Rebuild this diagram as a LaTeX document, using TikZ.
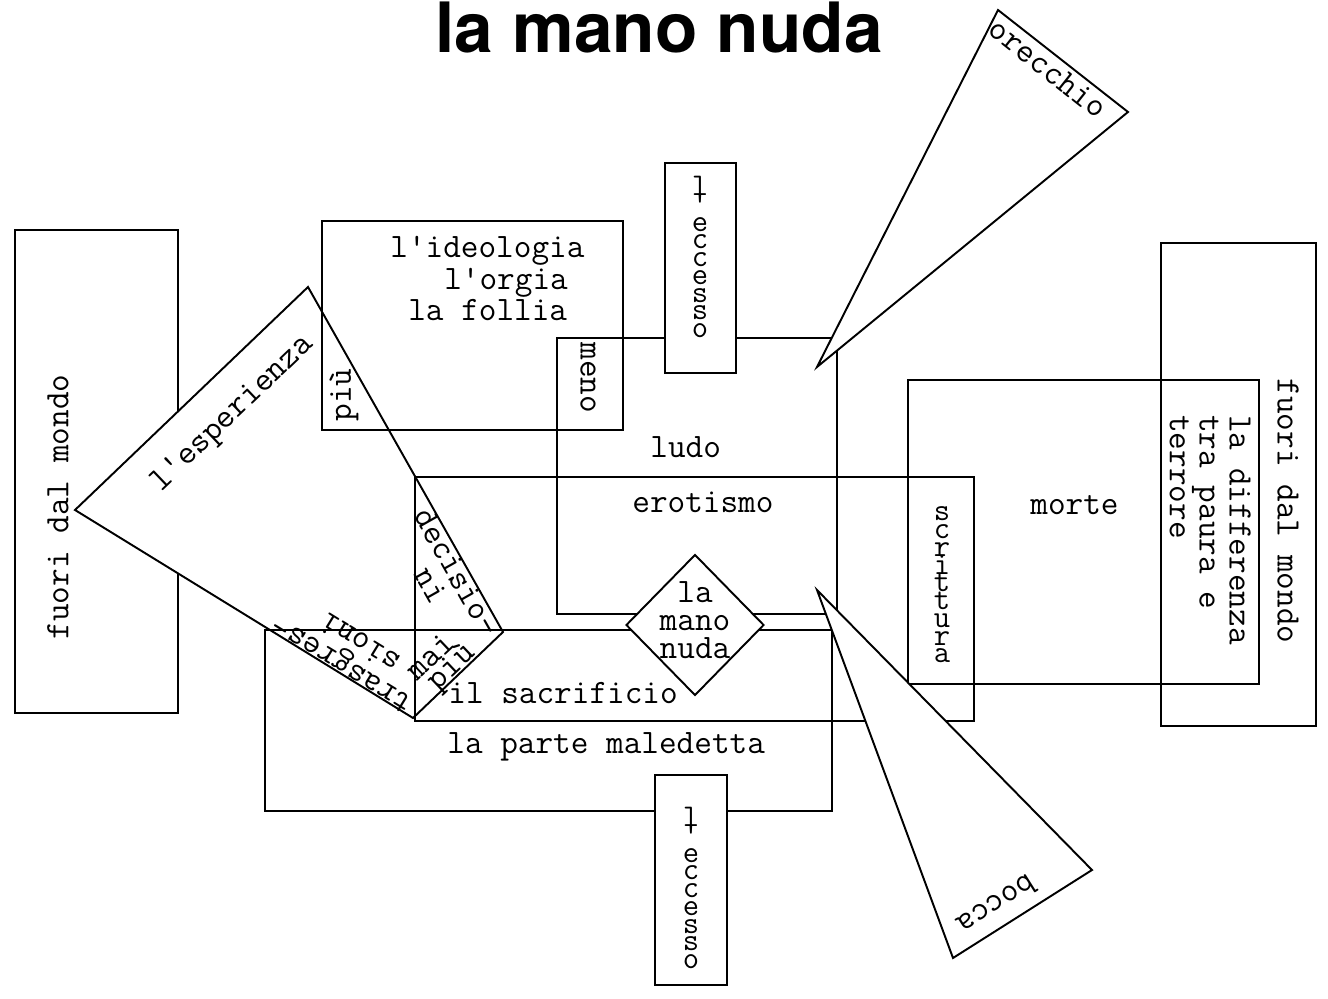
\documentclass[tikz,border=0pt]{standalone}
\usepackage{fontspec}
\usepackage{tikz}
\usetikzlibrary{shapes.geometric}
\newfontfamily\titlefont{TeX Gyre Heros}
\tikzstyle{box}=[draw=black,line width=1.1pt]
\tikzstyle{card}=[draw=black,fill=white,line width=1.1pt]
\tikzstyle{typed}=[inner sep=0pt,
                   font={\ttfamily\fontsize{19.5}{18}\selectfont}]
\tikzstyle{stacked}=[inner sep=0pt,align=center,
                     font={\ttfamily\fontsize{18}{10.1}\selectfont\lineskiplimit=-50pt}]

\begin{document}
\begin{tikzpicture}[x=0.02cm,y=-0.02cm]
    \useasboundingbox (0,0) rectangle (1328,999);
    \node (titolo) at (659,53) [anchor=base,inner sep=0pt,
        font={\titlefont\bfseries\fontsize{39.5}{40}\selectfont}]{la mano nuda};
    \draw[box] (15,230) rectangle (178,713);
    \draw[card] (75,510) -- (308,287) -- (503,632) -- (413,718) -- cycle;
    \draw[box] (322,221) rectangle (623,430);
    \draw[box] (557,338) rectangle (837,614);
    \draw[box] (415,477) rectangle (974,721);
    \draw[box] (265,630) rectangle (832,811);
    \draw[box] (908,380) rectangle (1259,684);
    \draw[box] (1161,243) rectangle (1316,726);
    \draw[card] (665,163) rectangle (736,373);
    \draw[card] (655,775) rectangle (727,985);
    \node (mano) at (695,625) [card,diamond,inner sep=0pt,
        minimum width=2.76cm,minimum height=2.82cm]{};
    \draw[card] (817,367) -- (998,10) -- (1128,112) -- cycle;
    \draw[card] (817,590) -- (1092,870) -- (953,958) -- cycle;
    \node (fuori1) at (58,507) [typed,rotate=90]{fuori dal mondo};
    \node (fuori2) at (1288,511) [typed,rotate=-90]{fuori dal mondo};
    \node (differenza) at (1251,415) [typed,rotate=-90,anchor=north west,align=left,
        font={\ttfamily\fontsize{19.5}{17}\selectfont}]{la differenza\\tra paura e\\terrore};
    \node (ideologia) at (390,236) [typed,anchor=north west,align=left]
        {l'ideologia\\\hspace*{1.575em}l'orgia\\\hspace*{0.525em}la follia};
    \node (piu1) at (344,395) [typed,rotate=90]{più};
    \node (meno) at (588,378) [typed,rotate=-90]{meno};
    \node (eccesso1) at (700,257) [stacked]{l\\'\\e\\c\\c\\e\\s\\s\\o};
    \node (eccesso2) at (691,888) [stacked]{l\\'\\e\\c\\c\\e\\s\\s\\o};
    \node (scrittura) at (942,585) [stacked]{s\\c\\r\\i\\t\\t\\u\\r\\a};
    \node (ludo) at (650,458) [typed,anchor=base west]{ludo};
    \node (erotismo) at (632,513) [typed,anchor=base west]{erotismo};
    \node (sacrificio) at (448,703) [typed,anchor=base west]{il sacrificio};
    \node (parte) at (447,753) [typed,anchor=base west]{la parte maledetta};
    \node (morte) at (1030,515) [typed,anchor=base west]{morte};
    \node (manotxt) at (695,620) [typed,align=center,
        font={\ttfamily\fontsize{19.5}{16}\selectfont}]{la\\mano\\nuda};
    \node (esperienza) at (233,414) [typed,rotate=43.7]{l'esperienza};
    \node (decisio) at (457,572) [typed,rotate=-60.5]{decisio-};
    \node (ni) at (431,585) [typed,rotate=-60.5]{ni};
    \node (trasgres) at (343,662) [typed,rotate=148.5]{trasgres-};
    \node (sioni) at (360,643) [typed,rotate=148.5]{sioni};
    \node (mai) at (430,656) [typed,rotate=43.4]{mai};
    \node (piu2) at (452,668) [typed,rotate=43.4]{più};
    \node (orecchio) at (1048,68) [typed,rotate=-38.4]{orecchio};
    \node (bocca) at (997,905) [typed,rotate=212.3]{bocca};
\end{tikzpicture}
\end{document}
